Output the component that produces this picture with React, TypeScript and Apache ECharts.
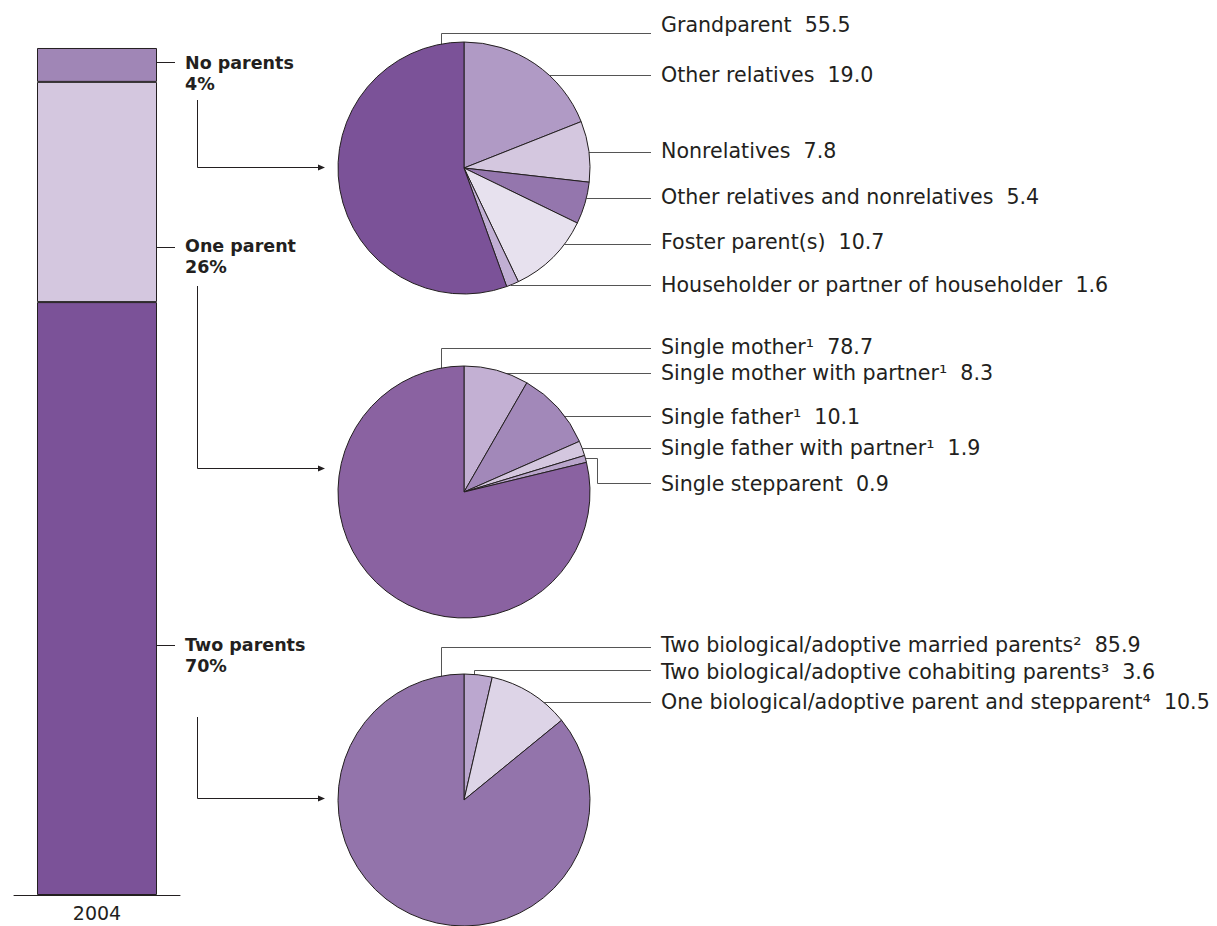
import React, { useEffect, useRef } from "react";
import * as echarts from "echarts";

// ---- data ----
const barCategories = ["2004"];
const barGroups = ["Two parents", "One parent", "No parents"];
const barValues = [70, 26, 4];
const barColors = ["#7B5298", "#D4C7DF", "#A086B6"];

const pie1Names = [
  "Other relatives",
  "Nonrelatives",
  "Other relatives and nonrelatives",
  "Foster parent(s)",
  "Householder or partner of householder",
  "Grandparent",
];
const pie1Values = [19.0, 7.8, 5.4, 10.7, 1.6, 55.5];
const pie1Colors = ["#B09AC5", "#D4C7DF", "#9476AD", "#E7E1EE", "#C1AFD4", "#7B5298"];
const pie1LabelOrder = [5, 0, 1, 2, 3, 4];

const pie2Names = [
  "Single mother with partner¹",
  "Single father¹",
  "Single father with partner¹",
  "Single stepparent",
  "Single mother¹",
];
const pie2Values = [8.3, 10.1, 1.9, 0.9, 78.7];
const pie2Colors = ["#C3B0D3", "#A288B9", "#D4C7DF", "#B9A5CB", "#8A62A1"];
const pie2LabelOrder = [4, 0, 1, 2, 3];

const pie3Names = [
  "Two biological/adoptive cohabiting parents³",
  "One biological/adoptive parent and stepparent⁴",
  "Two biological/adoptive married parents²",
];
const pie3Values = [3.6, 10.5, 85.9];
const pie3Colors = ["#BBA7CF", "#DDD4E7", "#9374AB"];
const pie3LabelOrder = [2, 0, 1];

// ---- layout ----
const FONT = "DejaVu Sans";
const INK = "#231F20";
const LEAD = "#555555";
const PIE_R = 126;
const PIE_X = 464;
const pieCentersY = [168, 492, 800];
const LABEL_X = 661;
const LINE_END = 651;

const pie1TextY = [25, 75, 151, 197, 242, 285];
const pie1LineY = [33, 75, 152, 198, 244, 285];
const pie1Elbow: (number | null)[] = [441, null, null, null, null, null];

const pie2TextY = [347, 373, 417, 448, 484];
const pie2LineY = [348, 373, 416, 448, 483];
const pie2Elbow: (number | null)[] = [441, null, null, null, 597];
const pie2ElbowStartY: (number | null)[] = [null, null, null, null, 458];

const pie3TextY = [645, 672, 702];
const pie3LineY = [647, 670, 702];
const pie3Elbow: (number | null)[] = [441, 474, null];

function edgeX(cy: number, y: number) {
  const d = y - cy;
  return PIE_X + Math.sqrt(Math.max(0, PIE_R * PIE_R - d * d));
}
function edgeYTop(cy: number, x: number) {
  const d = x - PIE_X;
  return cy - Math.sqrt(Math.max(0, PIE_R * PIE_R - d * d));
}

function pieGraphics(
  names: string[],
  values: number[],
  order: number[],
  textY: number[],
  lineY: number[],
  elbow: (number | null)[],
  cy: number,
  elbowStartY?: (number | null)[]
) {
  const out: any[] = [];
  order.forEach((idx, k) => {
    out.push({
      type: "text",
      x: LABEL_X,
      y: textY[k],
      style: {
        text: `${names[idx]}  ${values[idx].toFixed(1)}`,
        fill: INK,
        fontFamily: FONT,
        fontSize: 20.6,
        verticalAlign: "middle",
        align: "left",
      },
    });
    const ly = lineY[k] + 0.5;
    let pts: number[][];
    const ex = elbow[k];
    if (ex != null) {
      if (elbowStartY && elbowStartY[k] != null) {
        const sy = elbowStartY[k] as number;
        pts = [
          [edgeX(cy, sy), sy + 0.5],
          [ex + 0.5, sy + 0.5],
          [ex + 0.5, ly],
          [LINE_END, ly],
        ];
      } else {
        pts = [
          [ex + 0.5, edgeYTop(cy, ex) + 1],
          [ex + 0.5, ly],
          [LINE_END, ly],
        ];
      }
    } else {
      pts = [
        [edgeX(cy, lineY[k]), ly],
        [LINE_END, ly],
      ];
    }
    out.push({
      type: "polyline",
      shape: { points: pts },
      style: { stroke: LEAD, lineWidth: 1, fill: null },
    });
  });
  return out;
}

function arrow(x: number, y1: number, y2: number, tipX: number) {
  return [
    {
      type: "polyline",
      shape: {
        points: [
          [x + 0.5, y1],
          [x + 0.5, y2 + 0.5],
          [tipX - 5, y2 + 0.5],
        ],
      },
      style: { stroke: INK, lineWidth: 1, fill: null },
    },
    {
      type: "polygon",
      shape: {
        points: [
          [tipX - 7, y2 - 2.5],
          [tipX, y2 + 0.5],
          [tipX - 7, y2 + 3.5],
        ],
      },
      style: { fill: INK },
    },
  ];
}

function barLabel(title: string, pct: number, y: number, tickY: number) {
  return [
    {
      type: "line",
      shape: { x1: 157, y1: tickY + 0.5, x2: 175, y2: tickY + 0.5 },
      style: { stroke: INK, lineWidth: 1 },
    },
    {
      type: "text",
      x: 185,
      y: y,
      style: {
        text: `${title}\n${pct}%`,
        fill: INK,
        fontFamily: FONT,
        fontWeight: "bold",
        fontSize: 17.5,
        lineHeight: 21,
        verticalAlign: "top",
        align: "left",
      },
    },
  ];
}

export default function App() {
  const ref = useRef<HTMLDivElement>(null);
  useEffect(() => {
    if (!ref.current) return;
    const chart = echarts.init(ref.current, undefined, { renderer: "svg" });

    const pieSeries = [
      { names: pie1Names, values: pie1Values, colors: pie1Colors },
      { names: pie2Names, values: pie2Values, colors: pie2Colors },
      { names: pie3Names, values: pie3Values, colors: pie3Colors },
    ].map((p, i) => ({
      type: "pie",
      name: "pie" + i,
      center: [PIE_X, pieCentersY[i]],
      radius: PIE_R,
      startAngle: 90,
      clockwise: true,
      silent: true,
      label: { show: false },
      labelLine: { show: false },
      itemStyle: { borderColor: INK, borderWidth: 1 },
      data: p.names.map((n, j) => ({
        name: n,
        value: p.values[j],
        itemStyle: { color: p.colors[j] },
      })),
    }));

    const barSeries = barGroups.map((g, i) => ({
      type: "bar",
      name: g,
      stack: "total",
      barWidth: 120,
      silent: true,
      itemStyle: { color: barColors[i], borderColor: INK, borderWidth: 1 },
      data: [barValues[i]],
    }));

    const graphics: any[] = [
      ...barLabel(barGroups[2], barValues[2], 52, 62),
      ...barLabel(barGroups[1], barValues[1], 235, 247),
      ...barLabel(barGroups[0], barValues[0], 634, 645),
      ...arrow(197, 100, 167, 325),
      ...arrow(197, 286, 468, 325),
      ...arrow(197, 717, 798, 325),
      ...pieGraphics(pie1Names, pie1Values, pie1LabelOrder, pie1TextY, pie1LineY, pie1Elbow, pieCentersY[0]),
      ...pieGraphics(pie2Names, pie2Values, pie2LabelOrder, pie2TextY, pie2LineY, pie2Elbow, pieCentersY[1], pie2ElbowStartY),
      ...pieGraphics(pie3Names, pie3Values, pie3LabelOrder, pie3TextY, pie3LineY, pie3Elbow, pieCentersY[2]),
    ];

    chart.setOption({
      animation: false,
      backgroundColor: "#ffffff",
      grid: { left: 14, top: 48, width: 166, bottom: 31, containLabel: false },
      xAxis: {
        type: "category",
        data: barCategories,
        axisLine: { show: true, lineStyle: { color: INK, width: 1 } },
        axisTick: { show: false },
        axisLabel: {
          color: INK,
          fontFamily: FONT,
          fontSize: 19,
          lineHeight: 19,
          margin: 8,
        },
      },
      yAxis: { type: "value", min: 0, max: 100, show: false },
      series: [...barSeries, ...pieSeries],
      graphic: graphics,
    });
    return () => chart.dispose();
  }, []);
  return (
    <div
      ref={ref}
      style={{ position: "fixed", left: 0, top: 0, width: 1217, height: 926, background: "#fff" }}
    />
  );
}
